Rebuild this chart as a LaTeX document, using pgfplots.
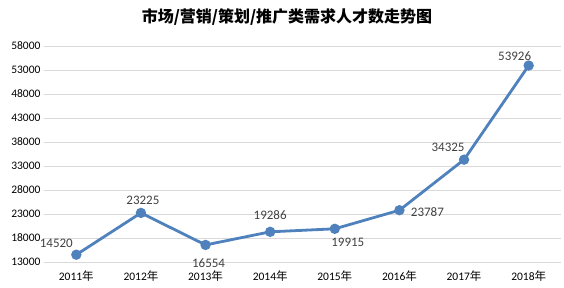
\documentclass[border=0pt]{standalone}
\usepackage{pgfplots}
\pgfplotsset{compat=1.18}
\usepackage{pgfplotstable}
\usepackage{fontspec}
\setmainfont{Carlito}
\newfontfamily\cjk{Noto Sans CJK SC}
\definecolor{linec}{RGB}{79,129,189}
\definecolor{gridc}{RGB}{217,217,217}
\definecolor{labc}{RGB}{64,64,64}
\pgfplotstableread{
x y dx dy
0 14520 -20 11
1 23225 2 13
2 16554 3 -18
3 19286 0 17
4 19915 13 -14
5 23787 28 -2
6 34325 -16 12
7 53926 -14 9
}\data
\begin{document}
\begin{tikzpicture}
\path[use as bounding box] (0,0) rectangle (564pt,288pt);
\node[font=\cjk\bfseries\fontsize{16}{18}\selectfont, text=black] at (287pt,271pt) {市场/营销/策划/推广类需求人才数走势图};
\begin{axis}[
  at={(44pt,26pt)}, anchor=south west,
  scale only axis, width=517pt, height=216pt,
  xmin=-0.5, xmax=7.5, ymin=13000, ymax=58000,
  ytick={13000,18000,...,58000},
  xtick={0,...,7},
  xticklabels={2011{\cjk 年},2012{\cjk 年},2013{\cjk 年},2014{\cjk 年},2015{\cjk 年},2016{\cjk 年},2017{\cjk 年},2018{\cjk 年}},
  scaled y ticks=false,
  /pgf/number format/1000 sep={},
  /pgf/number format/assume math mode=true,
  axis line style={draw=none},
  tick style={draw=none},
  ymajorgrids,
  grid style={gridc, line width=0.8pt},
  ticklabel style={font=\fontsize{11.5}{13}\selectfont, text=black},
  xticklabel style={yshift=-5pt},
  clip=false,
]
\addplot[linec, line width=2.8pt, mark=*, mark size=3.7pt,
  mark options={solid, fill=linec, draw=none},
  visualization depends on={\thisrow{dx} \as \dx},
  visualization depends on={\thisrow{dy} \as \dy},
  nodes near coords={\pgfmathprintnumber[fixed,1000 sep={},assume math mode=true]{\pgfplotspointmeta}},
  nodes near coords style={anchor=center, xshift=\dx pt, yshift=\dy pt, text=labc, font=\fontsize{13}{15}\selectfont},
] table[x=x,y=y] {\data};
\end{axis}
\end{tikzpicture}
\end{document}
